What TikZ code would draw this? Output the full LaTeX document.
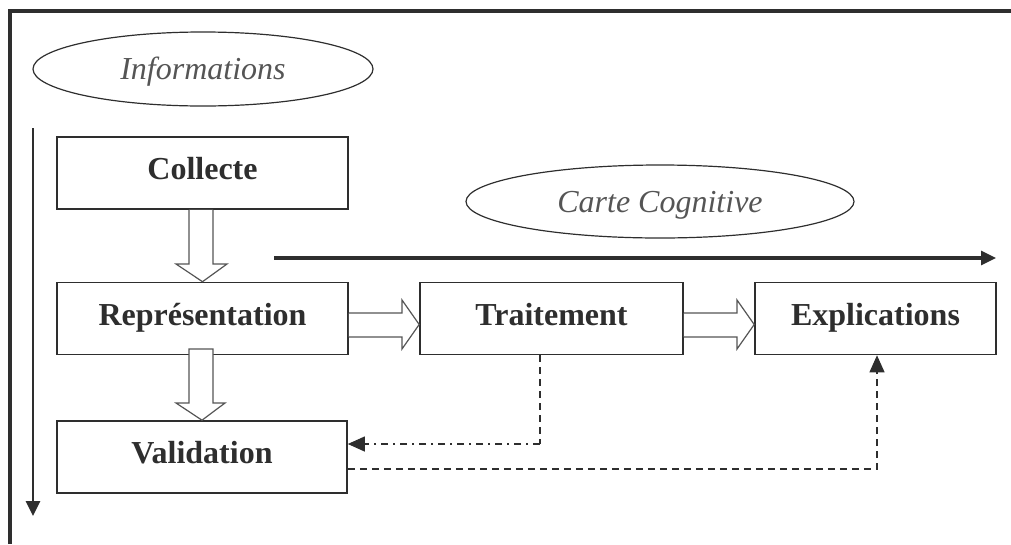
\documentclass[tikz,border=0pt]{standalone}
\usepackage{fontspec}
\setmainfont{Liberation Serif}
\usetikzlibrary{shapes.geometric,arrows.meta}

\definecolor{ink}{HTML}{2E2E2E}
\definecolor{soft}{HTML}{555555}

\begin{document}
\begin{tikzpicture}[x=1pt,y=-1pt,
  stagebox/.style={draw=ink,line width=1.6pt,fill=white,minimum width=291pt,
    minimum height=72pt,inner sep=0pt,font=\fontsize{32}{36}\selectfont\bfseries,
    text=ink,text height=17pt,text depth=4pt},
  ovalbox/.style={ellipse,draw=ink,line width=1.2pt,inner sep=0pt,
    font=\fontsize{32}{36}\selectfont\itshape,text=soft,text height=21pt,text depth=0pt},
  fatarrow/.style={draw=soft,line width=1.2pt,fill=white,line join=miter},
  flowline/.style={draw=ink,line width=1.1pt},
  tipfilled/.style={-{Triangle[length=17pt,width=15pt]}},
]
\useasboundingbox (0,0) rectangle (1011,544);

% page frame (top and left edges)
\draw[ink,line width=3.6pt] (10,544) -- (10,11) -- (1011,11);

% ellipses
\node[ovalbox,minimum width=340pt,minimum height=74pt] (info) at (203,69) {Informations};
\node[ovalbox,minimum width=388pt,minimum height=73pt] (carte) at (660,201.5) {Carte Cognitive};

% stage boxes
\node[stagebox] (collecte) at (202.5,173) {Collecte};
\node[stagebox] (repr) at (202.5,318.5) {Représentation};
\node[stagebox,minimum width=290pt] (valid) at (202,457) {Validation};
\node[stagebox,minimum width=263pt] (trait) at (551.5,318.5) {Traitement};
\node[stagebox,minimum width=241pt] (expl) at (875.5,318.5) {Explications};

% long time-axis arrows
\coordinate (downstart) at (33,128);
\coordinate (downend) at (33,516);
\draw[ink,line width=2.6pt,-{Triangle[length=15pt,width=14pt]}] (downstart) -- (downend);
\coordinate (rightstart) at (274,258);
\coordinate (rightend) at (996,258);
\draw[ink,line width=3.2pt,-{Triangle[length=15pt,width=14pt]}] (rightstart) -- (rightend);

% hollow block arrows between stages
\draw[fatarrow] (collecte.south -| 189,0) -- (189,264) -- (176,264) -- (repr.north)
  -- (227,264) -- (213,264) -- (collecte.south -| 213,0);
\draw[fatarrow] (189,349) -- (189,403) -- (176,403) -- (valid.north)
  -- (225,403) -- (213,403) -- (213,349) -- cycle;
\draw[fatarrow] (repr.east |- 0,313) -- (402,313) -- (402,300) -- (trait.west |- 0,324.5)
  -- (402,349) -- (402,337) -- (repr.east |- 0,337);
\draw[fatarrow] (trait.east |- 0,313) -- (737,313) -- (737,300) -- (expl.west |- 0,324.5)
  -- (737,349) -- (737,337) -- (trait.east |- 0,337);

% feedback connectors
\coordinate (backcorner) at (540,444);
\draw[flowline,dashed,dash pattern=on 7pt off 5pt] (trait.south -| backcorner) -- (backcorner);
\draw[flowline,tipfilled,dash pattern=on 7pt off 5pt on 2pt off 5pt]
  (backcorner) -- (valid.east |- backcorner);
\coordinate (fwdcorner) at (877,469);
\draw[flowline,tipfilled,dash pattern=on 7pt off 5pt]
  (valid.east |- fwdcorner) -- (fwdcorner) -- (expl.south -| fwdcorner);
\end{tikzpicture}
\end{document}
